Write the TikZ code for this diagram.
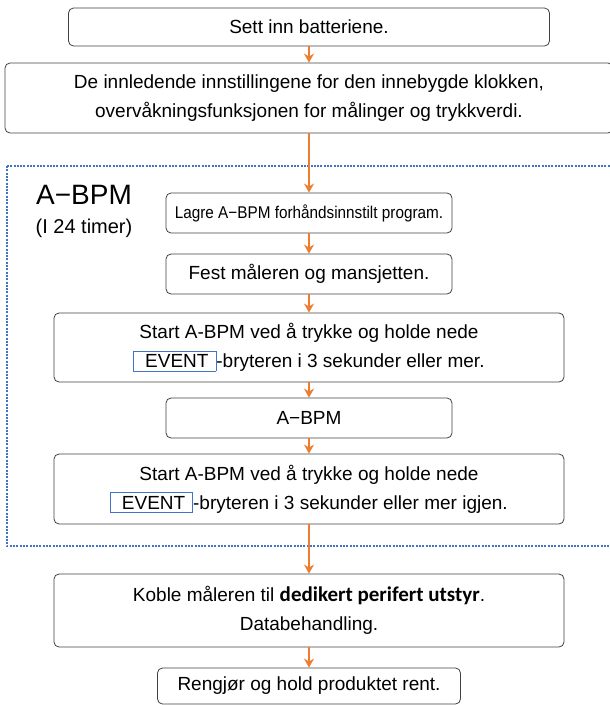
\documentclass[tikz,border=0pt]{standalone}
\usepackage{fontspec}
\usepackage{graphicx}
\setmainfont{Liberation Sans}
\newfontfamily\carlito{Carlito}
\usetikzlibrary{arrows.meta}
\definecolor{flowor}{HTML}{ED7D31}
\definecolor{evblue}{HTML}{4472C4}
\newcommand\evkey[1]{{\setlength\fboxsep{3pt}\setlength\fboxrule{0.8pt}%
  \fcolorbox{evblue}{white}{\hspace{8pt}#1\hspace{4pt}}}}

\begin{document}
\begin{tikzpicture}[x=1pt, y=-1pt, >={Stealth[length=9pt, width=10pt]},
    box/.style={draw=black!75, line width=0.8pt, rounded corners=5pt, align=center,
      inner sep=0pt, font=\fontsize{19}{29}\selectfont},
    flow/.style={->, draw=flowor, line width=1.6pt}]
    \clip (0,0) rectangle (610,705);
    % A-BPM frame
    \draw[evblue, line width=2pt, dash pattern=on 2pt off 1.3pt] (7,166) rectangle (613,546);
    \node[font=\fontsize{28}{30}\selectfont] (ttl) at (84,195) {A−BPM};
    \node[font=\fontsize{20}{22}\selectfont] (hrs) at (84,228) {(I 24 timer)};

    \node[box, minimum width=481pt, minimum height=38pt] (sett) at (309,27) {Sett inn batteriene.};
    \node[box, minimum width=608pt, minimum height=70pt] (init) at (309,98)
      {De innledende innstillingene for den innebygde klokken,\\
       overvåkningsfunksjonen for målinger og trykkverdi.};
    \node[box, minimum width=286pt, minimum height=40pt] (lagre) at (309,213)
      {\fontsize{17}{20}\selectfont\scalebox{0.9}[1]{Lagre A−BPM forhåndsinnstilt program.}};
    \node[box, minimum width=286pt, minimum height=40pt] (fest) at (309,274) {Fest måleren og mansjetten.};
    \node[box, minimum width=510pt, minimum height=69pt] (start) at (309,347.5)
      {Start A-BPM ved å trykke og holde nede\\
       \evkey{EVENT}-bryteren i 3 sekunder eller mer.};
    \node[box, minimum width=286pt, minimum height=40pt] (abpm) at (309,418) {A−BPM};
    \node[box, minimum width=510pt, minimum height=70pt] (igjen) at (309,489)
      {Start A-BPM ved å trykke og holde nede\\
       \evkey{EVENT}-bryteren i 3 sekunder eller mer igjen.};
    \node[box, minimum width=510pt, minimum height=73pt] (koble) at (309,610.5)
      {Koble måleren til {\carlito\bfseries\fontsize{21}{29}\selectfont dedikert perifert utstyr}.\\
       Databehandling.};
    \node[box, minimum width=303pt, minimum height=36pt] (rengj) at (309,686) {Rengjør og hold produktet rent.};

    \foreach \a/\b in {sett/init, init/lagre, lagre/fest, fest/start, start/abpm, abpm/igjen, igjen/koble, koble/rengj}
      \draw[flow] (\a) -- (\b);
  \end{tikzpicture}
\end{document}
